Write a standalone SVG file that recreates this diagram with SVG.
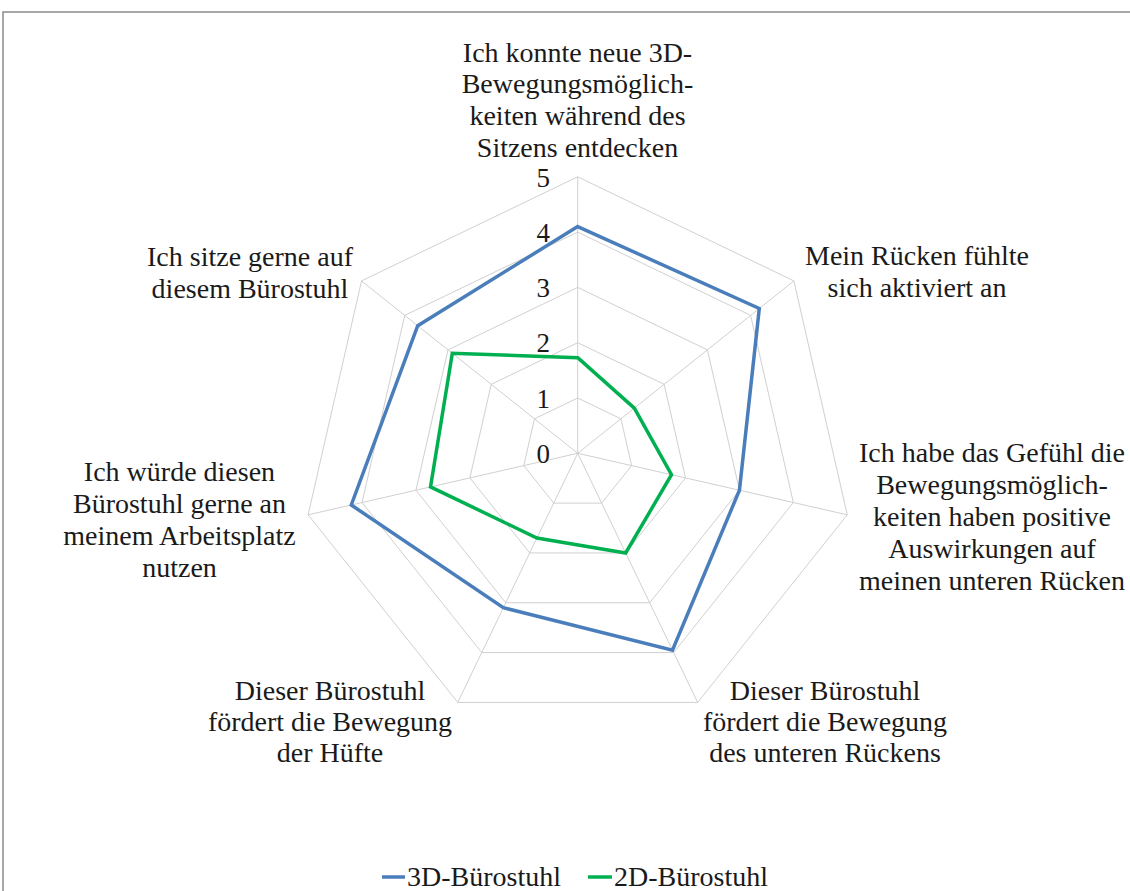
<svg xmlns="http://www.w3.org/2000/svg" width="1130" height="891" viewBox="0 0 1130 891" font-family="'Liberation Serif', 'Times New Roman', Times, Tinos, 'DejaVu Serif', serif">
<style>
  text { font-family: 'Liberation Serif', 'Times New Roman', Times, Tinos, 'DejaVu Serif', serif; }
  .lbl { font-size: 28px; fill: #1a1a1a; text-anchor: middle; }
  .tick { font-size: 27px; fill: #1a1a1a; text-anchor: end; }
  .grid { fill: none; stroke: #d0d0d0; stroke-width: 1; }
  .s3d { fill: none; stroke: #4a7ebb; stroke-width: 3.5; stroke-linejoin: miter; }
  .s2d { fill: none; stroke: #00b050; stroke-width: 3.5; stroke-linejoin: miter; }
</style>
<rect x="0" y="0" width="1130" height="891" fill="#ffffff"/>
<rect id="frame" x="3" y="12" width="1140" height="900" fill="#ffffff" stroke="#8a8a8a" stroke-width="1.5"/>

<g id="grid" transform="translate(577.7,453.3)">
  <polygon class="grid" points="0,-55.3 43.23,-34.48 53.91,12.31 23.99,49.82 -23.99,49.82 -53.91,12.31 -43.23,-34.48"/>
  <polygon class="grid" points="0,-110.6 86.47,-68.96 107.83,24.61 47.99,99.65 -47.99,99.65 -107.83,24.61 -86.47,-68.96"/>
  <polygon class="grid" points="0,-165.9 129.71,-103.44 161.74,36.92 71.98,149.47 -71.98,149.47 -161.74,36.92 -129.71,-103.44"/>
  <polygon class="grid" points="0,-221.2 172.94,-137.92 215.65,49.22 95.97,199.29 -95.97,199.29 -215.65,49.22 -172.94,-137.92"/>
  <polygon class="grid" points="0,-276.5 216.18,-172.39 269.57,61.53 119.97,249.12 -119.97,249.12 -269.57,61.53 -216.18,-172.39"/>
  <line class="grid" x1="0" y1="0" x2="0" y2="-276.5"/>
  <line class="grid" x1="0" y1="0" x2="216.18" y2="-172.39"/>
  <line class="grid" x1="0" y1="0" x2="269.57" y2="61.53"/>
  <line class="grid" x1="0" y1="0" x2="119.97" y2="249.12"/>
  <line class="grid" x1="0" y1="0" x2="-119.97" y2="249.12"/>
  <line class="grid" x1="0" y1="0" x2="-269.57" y2="61.53"/>
  <line class="grid" x1="0" y1="0" x2="-216.18" y2="-172.39"/>
</g>

<g id="ticks">
  <text class="tick" x="550" y="463">0</text>
  <text class="tick" x="550" y="407.7">1</text>
  <text class="tick" x="550" y="352.4">2</text>
  <text class="tick" x="550" y="297.1">3</text>
  <text class="tick" x="550" y="241.8">4</text>
  <text class="tick" x="550" y="186.5">5</text>
</g>

<g id="series" transform="translate(577.7,453.3)">
  <polygon id="series-3d" class="s3d" points="0,-226.73 181.59,-144.81 161.74,36.92 94.78,196.81 -74.38,154.45 -226.44,51.68 -159.97,-127.57"/>
  <polygon id="series-2d" class="s2d" points="0,-95.67 56.64,-45.17 93.81,21.41 47.99,99.65 -40.79,84.70 -147.18,33.59 -125.38,-99.99"/>
</g>

<g id="label-top">
  <text class="lbl" x="577.5" y="61.7">Ich konnte neue 3D-</text>
  <text class="lbl" x="577.5" y="93.3">Bewegungsmöglich-</text>
  <text class="lbl" x="577.5" y="125">keiten während des</text>
  <text class="lbl" x="577.5" y="156.7">Sitzens entdecken</text>
</g>
<g id="label-upper-right">
  <text class="lbl" x="917" y="264.5">Mein Rücken fühlte</text>
  <text class="lbl" x="917" y="296.5">sich aktiviert an</text>
</g>
<g id="label-right">
  <text class="lbl" x="992" y="462">Ich habe das Gefühl die</text>
  <text class="lbl" x="992" y="494">Bewegungsmöglich-</text>
  <text class="lbl" x="992" y="526">keiten haben positive</text>
  <text class="lbl" x="992" y="558">Auswirkungen auf</text>
  <text class="lbl" x="992" y="590">meinen unteren Rücken</text>
</g>
<g id="label-lower-right">
  <text class="lbl" x="825" y="700">Dieser Bürostuhl</text>
  <text class="lbl" x="825" y="731">fördert die Bewegung</text>
  <text class="lbl" x="825" y="762">des unteren Rückens</text>
</g>
<g id="label-lower-left">
  <text class="lbl" x="330" y="700">Dieser Bürostuhl</text>
  <text class="lbl" x="330" y="731">fördert die Bewegung</text>
  <text class="lbl" x="330" y="762">der Hüfte</text>
</g>
<g id="label-left">
  <text class="lbl" x="179.5" y="481">Ich würde diesen</text>
  <text class="lbl" x="179.5" y="513">Bürostuhl gerne an</text>
  <text class="lbl" x="179.5" y="545">meinem Arbeitsplatz</text>
  <text class="lbl" x="179.5" y="577">nutzen</text>
</g>
<g id="label-upper-left">
  <text class="lbl" x="250" y="266">Ich sitze gerne auf</text>
  <text class="lbl" x="250" y="298">diesem Bürostuhl</text>
</g>

<g id="legend">
  <line x1="382" y1="877" x2="405" y2="877" stroke="#4a7ebb" stroke-width="3.5"/>
  <text class="lbl" x="407" y="886" style="text-anchor:start">3D-Bürostuhl</text>
  <line x1="588" y1="877" x2="612" y2="877" stroke="#00b050" stroke-width="3.5"/>
  <text class="lbl" x="614" y="886" style="text-anchor:start">2D-Bürostuhl</text>
</g>
</svg>
